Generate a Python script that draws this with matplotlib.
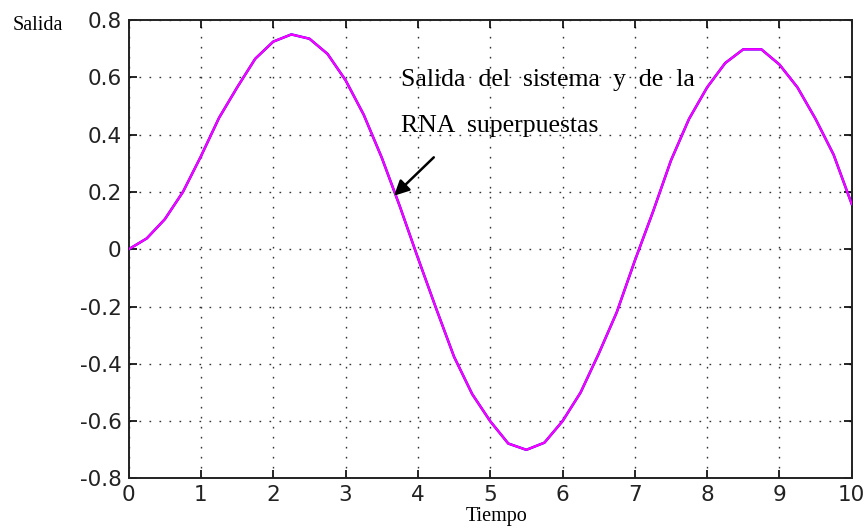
import numpy as np
import matplotlib
matplotlib.use("Agg")
from matplotlib import pyplot as plt

# values (time, output)
tiempo = [0, 0.25, 0.5, 0.75, 1.0, 1.25, 1.5, 1.75, 2.0, 2.25, 2.5, 2.75,
          3.0, 3.25, 3.5, 3.75, 4.0, 4.25, 4.5, 4.75, 5.0, 5.25, 5.5, 5.75,
          6.0, 6.25, 6.5, 6.75, 7.0, 7.25, 7.5, 7.75, 8.0, 8.25, 8.5, 8.75,
          9.0, 9.25, 9.5, 9.75, 10.0]
salida_sistema = [0.0, 0.038, 0.105, 0.20, 0.325, 0.459, 0.565, 0.665, 0.725,
                  0.75, 0.735, 0.682, 0.59, 0.47, 0.32, 0.15, -0.03, -0.205,
                  -0.375, -0.505, -0.60, -0.678, -0.70, -0.675, -0.60, -0.50,
                  -0.365, -0.22, -0.04, 0.13, 0.31, 0.455, 0.565, 0.65,
                  0.698, 0.698, 0.645, 0.565, 0.455, 0.33, 0.158]
salida_rna = salida_sistema  # both curves overlap

xticks = np.arange(0, 11, 1)
yticks = [-0.8, -0.6, -0.4, -0.2, 0, 0.2, 0.4, 0.6, 0.8]
yticklabels = ["-0.8", "-0.6", "-0.4", "-0.2", "0", "0.2", "0.4", "0.6", "0.8"]

fig = plt.figure(figsize=(8.66, 5.29), dpi=100)
ax = fig.add_axes([0.1486, 0.0955, 0.8349, 0.8665])

ax.plot(tiempo, salida_sistema, color="#0000ff", lw=1.8, zorder=3)
ax.plot(tiempo, salida_rna, color="#ff00ff", lw=1.6, zorder=4)

ax.set_xlim(0, 10)
ax.set_ylim(-0.8, 0.8)
ax.set_xticks(xticks)
ax.set_yticks(yticks)
ax.set_yticklabels(yticklabels)

ax.grid(True, color="#333333", linestyle=(0, (1.2, 6)), linewidth=1.0)
ax.tick_params(direction="in", length=6, width=1.2, top=True, right=True,
               labelsize=15.5, labelcolor="#222222", pad=5)
for s in ax.spines.values():
    s.set_linewidth(1.4)
    s.set_color("#222222")

serif = ["Liberation Serif", "DejaVu Serif"]
ax.text(3.76, 0.571, "Salida  del  sistema  y  de  la", family=serif,
        fontsize=18.5, va="baseline", ha="left", zorder=5)
ax.text(3.76, 0.410, "RNA  superpuestas", family=serif,
        fontsize=18.5, va="baseline", ha="left", zorder=5)
ax.annotate("", xy=(3.67, 0.187), xytext=(4.22, 0.321),
            arrowprops=dict(arrowstyle="-|>,head_length=0.9,head_width=0.45",
                            color="black", lw=1.8, shrinkA=0, shrinkB=0),
            zorder=6)

fig.text(12.7 / 866, 1 - 25 / 529, "Salida", family=serif, fontsize=14.5,
         ha="left", va="center")
fig.text(466 / 866, 1 - 517 / 529, "Tiempo", family=serif, fontsize=14.5,
         ha="left", va="center")

fig.savefig("out.png", dpi=100)
